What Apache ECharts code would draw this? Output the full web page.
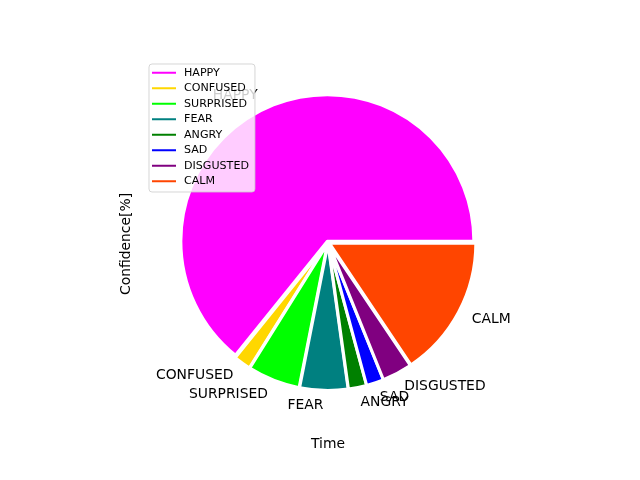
<!DOCTYPE html>
<html><head><meta charset="utf-8">
<script src="https://cdn.jsdelivr.net/npm/echarts@6/dist/echarts.min.js"></script>
<style>html,body{margin:0;padding:0;background:#fff}#c{width:640px;height:480px}</style>
</head><body><div id="c"></div>
<script>
const categories = ['HAPPY', 'CONFUSED', 'SURPRISED', 'FEAR', 'ANGRY', 'SAD', 'DISGUSTED', 'CALM'];
const confidence = [64.2, 1.9, 5.8, 5.3, 2.0, 1.9, 3.3, 15.6];
const colors = ['#ff00ff', '#ffd700', '#00ff00', '#008080', '#008000', '#0000ff', '#800080', '#ff4500'];
const xLabel = 'Time';
const yLabel = 'Confidence[%]';

const FONT = 'DejaVu Sans';
const chart = echarts.init(document.getElementById('c'), null, {renderer: 'canvas'});
const pieData = categories.map((name, i) => ({
  name: name,
  value: confidence[i],
  selected: true,
  itemStyle: {color: colors[i]}
}));

chart.setOption({
  animation: false,
  backgroundColor: '#ffffff',
  legend: {
    orient: 'vertical',
    left: 149, top: 64,
    data: categories,
    selectedMode: false,
    icon: 'rect',
    itemWidth: 24, itemHeight: 2,
    itemGap: 0,
    itemStyle: {borderWidth: 0},
    padding: [1, 6, 3, 3],
    backgroundColor: 'rgba(255,255,255,0.8)',
    borderColor: 'rgba(204,204,204,0.8)',
    borderWidth: 1,
    borderRadius: 3,
    z: 10,
    textStyle: {fontFamily: FONT, fontSize: 11.1, color: '#000', lineHeight: 15.5, padding: [0, 0, 0, 3]}
  },
  graphic: [
    {type: 'text', x: 328, y: 444, z: 5, style: {text: xLabel, font: '13.9px "DejaVu Sans"', fill: '#000', align: 'center', verticalAlign: 'middle'}},
    {type: 'text', x: 126, y: 244, rotation: Math.PI / 2, z: 5, style: {text: yLabel, font: '13.9px "DejaVu Sans"', fill: '#000', align: 'center', verticalAlign: 'middle'}}
  ],
  series: [{
    type: 'pie',
    center: [328, 242.5],
    radius: 146.5,
    startAngle: 0,
    clockwise: false,
    avoidLabelOverlap: false,
    selectedMode: 'multiple',
    selectedOffset: 1.5,
    data: pieData,
    itemStyle: {borderColor: '#ffffff', borderWidth: 3},
    select: {itemStyle: {borderColor: '#ffffff', borderWidth: 3}},
    emphasis: {disabled: true},
    labelLayout: {hideOverlap: false},
    label: {
      show: true,
      position: 'outside',
      fontFamily: FONT,
      fontSize: 13.9,
      color: '#000',
      padding: [3, 0, 0, 0],
      distanceToLabelLine: 0
    },
    labelLine: {show: false, length: 15, length2: 0}
  }]
});
</script>
</body></html>
